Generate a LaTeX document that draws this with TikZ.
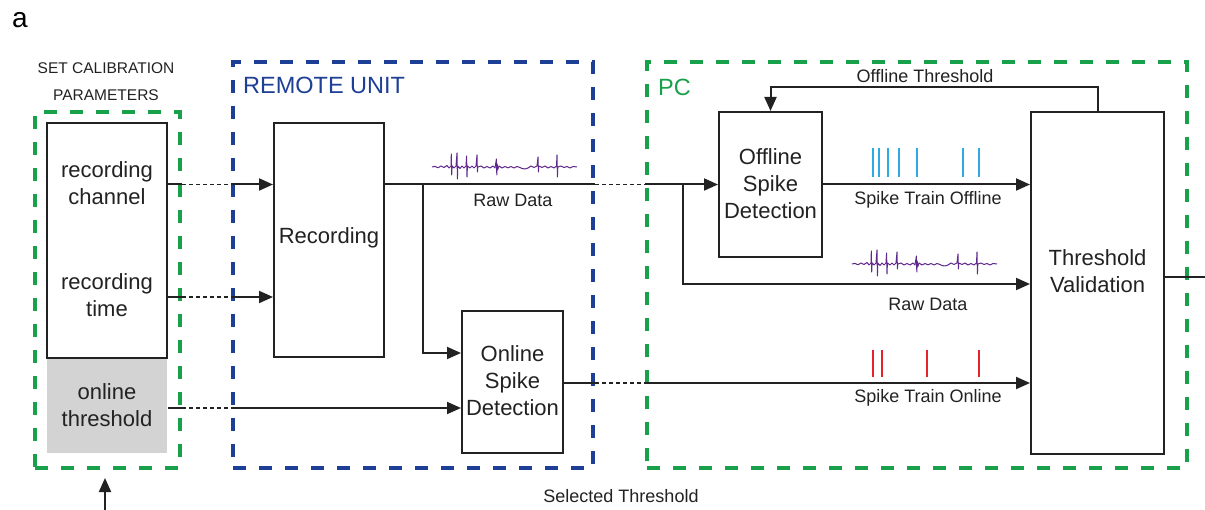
\documentclass[tikz,border=0pt]{standalone}
\usepackage{fontspec}
\setmainfont{Liberation Sans}
\usetikzlibrary{arrows.meta}
\definecolor{pcgreen}{RGB}{24,160,74}
\definecolor{rublue}{RGB}{30,63,150}
\definecolor{ink}{RGB}{34,34,34}
\definecolor{wavepurple}{RGB}{95,40,140}
\definecolor{spkblue}{RGB}{45,170,225}
\definecolor{spkred}{RGB}{230,35,40}
\definecolor{thrgray}{RGB}{211,211,211}
\tikzset{
  box/.style={draw=ink, line width=2pt, fill=white, inner sep=0pt},
  boxtxt/.style={align=center, inner sep=0pt, text=ink, font=\fontsize{22}{27}\selectfont},
  grpbox/.style={line width=4pt, dash pattern=on 13pt off 13pt, inner sep=0pt, fill=none},
  conn/.style={draw=ink, line width=2pt},
  arr/.style={conn, -{Triangle[length=14pt,width=12pt]}},
  dotln/.style={draw=ink, line width=1.8pt, dash pattern=on 4pt off 3pt},
  lab/.style={inner sep=0pt, text=ink, font=\fontsize{18}{22}\selectfont},
  wave/.style={draw=wavepurple, line width=1pt, line join=round},
  spkb/.style={draw=spkblue, line width=2pt},
  spkr/.style={draw=spkred, line width=2pt},
  wavepic/.pic={
    \draw[wave] (0,0) -- (3,-0.6) -- (6,0.8) -- (9,-1) -- (12,0.5) -- (15,-1.5) -- (17,1) -- (19,-1)
      -- (19.3,-13) -- (19.7,8) -- (20.1,-1) -- (22,1) -- (24,-1)
      -- (25,-14) -- (25.4,12) -- (25.8,-1) -- (28,1.5) -- (30,-1) -- (32,1) -- (34,-1)
      -- (34.6,-11) -- (35,10) -- (35.4,-1) -- (38,1) -- (40,-1) -- (42,1) -- (44,-1)
      -- (45,-12) -- (45.4,5) -- (45.8,0) -- (49,-1) -- (52,1) -- (55,-0.5) -- (58,1) -- (61,-1) -- (63,1)
      -- (64.4,-8) -- (64.8,8) -- (65.2,-3) -- (65.6,3) -- (67,-1) -- (70,1) -- (73,-0.5) -- (76,0.8)
      -- (79,-0.5) -- (82,1) -- (85,-0.5) -- (88,0.5) -- (90,1.5) -- (93,2) -- (96,1) -- (99,-1) -- (102,0.5) -- (105,-1)
      -- (106,-10) -- (106.4,5) -- (106.8,-1) -- (110,0.5) -- (113,-1) -- (116,1) -- (119,-0.5) -- (122,1) -- (124.5,-1)
      -- (125,-12) -- (125.4,10) -- (125.8,0) -- (129,-1) -- (132,0.5) -- (135,-0.5) -- (138,1) -- (141,-0.5) -- (145,0);
  }
}
\begin{document}
\begin{tikzpicture}[x=1pt,y=-1pt]
\useasboundingbox[fill=white] (0,0) rectangle (1205,510);

% group boxes
\node[grpbox, draw=pcgreen, minimum width=145pt, minimum height=356pt] (lgreen) at (107.5,290) {};
\node[grpbox, draw=rublue, minimum width=360pt, minimum height=406pt] (blue) at (413,265) {};
\node[grpbox, draw=pcgreen, minimum width=540pt, minimum height=406pt] (pc) at (917,265) {};

% titles
\node[inner sep=0pt, text=black, font=\fontsize{28}{30}\selectfont] (lbla) at (20,20) {a};
\node[inner sep=0pt, text=ink, font=\fontsize{15.5}{18}\selectfont] (set1) at (106,68) {SET CALIBRATION};
\node[inner sep=0pt, text=ink, font=\fontsize{15.5}{18}\selectfont] (set2) at (106,95) {PARAMETERS};
\node[inner sep=0pt, text=rublue, font=\fontsize{23.5}{26}\selectfont, anchor=west] (rut) at (243,85) {REMOTE UNIT};
\node[inner sep=0pt, text=pcgreen, font=\fontsize{23.5}{26}\selectfont, anchor=west] (pct) at (658,87) {PC};

% parameter boxes
\node[fill=thrgray, inner sep=0pt, minimum width=120pt, minimum height=95pt] (thr) at (107,405.5) {};
\node[box, minimum width=120pt, minimum height=235pt] (par) at (107,240.5) {};
\node[boxtxt] (ch) at (107,183.5) {recording\\channel};
\node[boxtxt] (tm) at (107,295.5) {recording\\time};
\node[boxtxt] (ot) at (107,405.5) {online\\threshold};

% processing boxes
\node[box, minimum width=110pt, minimum height=234pt] (rec) at (329,240) {};
\node[boxtxt] (rect) at (329,238) {Recording};
\node[box, minimum width=101pt, minimum height=142pt] (onl) at (512.5,382) {};
\node[boxtxt] (onlt) at (512.5,381) {Online\\Spike\\Detection};
\node[box, minimum width=103pt, minimum height=145pt] (off) at (770.5,184.5) {};
\node[boxtxt] (offt) at (770.5,183.5) {Offline\\Spike\\Detection};
\node[box, minimum width=133pt, minimum height=342pt] (tv) at (1097.5,283) {};
\node[boxtxt] (tvt) at (1097.5,271.5) {Threshold\\Validation};

% helper coordinates
\coordinate (ya) at (0,184.5);
\coordinate (yb) at (0,297);
\coordinate (yc) at (0,408);
\coordinate (yd) at (0,353);
\coordinate (ye) at (0,383);
\coordinate (yf) at (0,284);
\coordinate (yh) at (0,277);
\coordinate (bra) at (423,184.5);
\coordinate (brb) at (683,184.5);
\coordinate (loopr) at (1097.5,87);
\coordinate (outend) at (1205,277);
\coordinate (selbot) at (105,510);
\coordinate (seltip) at (105,478);

% inputs to remote unit
\draw[conn] (ya -| par.east) -- (ya -| lgreen.east);
\draw[dotln] (ya -| lgreen.east) -- (ya -| blue.west);
\draw[arr] (ya -| blue.west) -- (ya -| rec.west);
\draw[conn] (yb -| par.east) -- (yb -| lgreen.east);
\draw[dotln] (yb -| lgreen.east) -- (yb -| blue.west);
\draw[arr] (yb -| blue.west) -- (yb -| rec.west);
\draw[conn] (yc -| par.east) -- (yc -| lgreen.east);
\draw[dotln] (yc -| lgreen.east) -- (yc -| blue.west);
\draw[arr] (yc -| blue.west) -- (yc -| onl.west);

% raw data out of recording
\draw[conn] (ya -| rec.east) -- (ya -| blue.east);
\draw[dotln] (ya -| blue.east) -- (ya -| pc.west);
\draw[arr] (ya -| pc.west) -- (off.west);
\draw[arr] (bra) |- (yd -| onl.west);

% online spike train
\draw[conn] (ye -| onl.east) -- (ye -| blue.east);
\draw[dotln] (ye -| blue.east) -- (ye -| pc.west);
\draw[arr] (ye -| pc.west) -- (ye -| tv.west);

% PC connections
\draw[arr] (off.east) -- (ya -| tv.west);
\draw[arr] (brb) |- (yf -| tv.west);
\draw[arr] (tv.north) -- (loopr) -| (off.north);
\draw[conn] (yh -| tv.east) -- (outend);
\draw[arr] (selbot) -- (seltip);

% labels
\node[lab] (rd1) at (513,200) {Raw Data};
\node[lab] (rd2) at (928,304) {Raw Data};
\node[lab] (sto) at (928,200) {Spike Train Offline};
\node[lab] (stn) at (928,398) {Spike Train Online};
\node[lab] (oth) at (925,76) {Offline Threshold};
\node[lab] (sel) at (621,496) {Selected Threshold};

% waveforms
\pic at (432,167) {wavepic};
\pic at (852,264) {wavepic};

% spike trains
\foreach \sx in {873,879,888,899,917,963,979} \draw[spkb] (\sx,148) -- (\sx,177);
\foreach \sx in {873,882,927,979} \draw[spkr] (\sx,350) -- (\sx,377);
\end{tikzpicture}
\end{document}
